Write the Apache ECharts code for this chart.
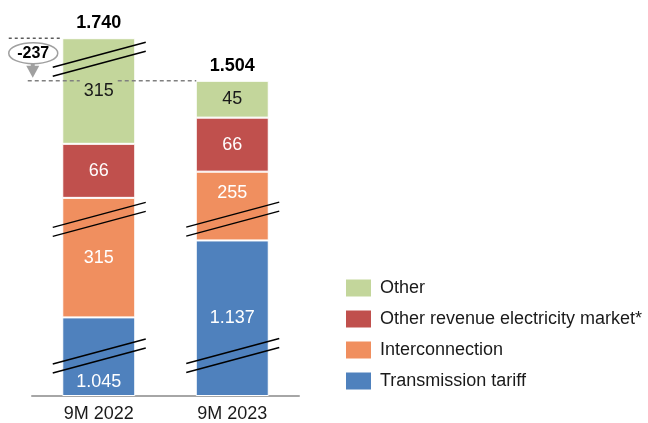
<!DOCTYPE html>
<html>
<head>
<meta charset="utf-8">
<script src="https://cdn.jsdelivr.net/npm/echarts@6/dist/echarts.min.js"></script>
<style>
  html, body { margin: 0; padding: 0; background: #fff; }
  #chart { width: 648px; height: 423px; }
</style>
</head>
<body>
<div id="chart"></div>
<script>
const categories = ['9M 2022', '9M 2023']
const transmission = [1045, 1137]
const interconnection = [315, 255]
const otherElectricity = [66, 66]
const other = [315, 45]
const totals = [1740, 1504]
const delta = -237
// the original bars are broken: amount cut out of each segment at the break marks
const transmissionCut = [949, 947]
const interconnectionCut = [169, 171]
const otherElectricityCut = [0, 0]
const otherCut = [186, 0]

const FONT = '"Liberation Sans", Arial, sans-serif'

// european thousands separator: 1045 -> 1.045
const fmt = (v) => {
  const a = Math.abs(v)
  const s = a >= 1000 ? Math.floor(a / 1000) + '.' + String(a % 1000).padStart(3, '0') : String(a)
  return (v < 0 ? '-' : '') + s
}

const seriesDefs = [
  { name: 'Transmission tariff', values: transmission, cut: transmissionCut, color: '#4f81bd', text: '#fff' },
  { name: 'Interconnection', values: interconnection, cut: interconnectionCut, color: '#f08f5f', text: '#fff' },
  { name: 'Other revenue electricity market*', values: otherElectricity, cut: otherElectricityCut, color: '#c0504d', text: '#fff' },
  { name: 'Other', values: other, cut: otherCut, color: '#c3d69b', text: '#1a1a1a' },
]
const shown = seriesDefs.map(s => s.values.map((v, i) => v - s.cut[i]))

// label nudges (series-category) so labels sit clear of the break marks
const labelShift = { '0-0': 25, '1-1': -13 }

const myChart = echarts.init(document.getElementById('chart'))

const series = seriesDefs.map((s, si) => ({
  name: s.name,
  type: 'bar',
  stack: 'rev',
  barWidth: 73,
  itemStyle: { color: s.color, borderColor: '#fff', borderWidth: 1 },
  label: {
    show: true,
    position: 'inside',
    color: s.text,
    fontSize: 18,
    fontFamily: FONT,
    formatter: (p) => fmt(s.values[p.dataIndex]),
  },
  data: shown[si].map((v, i) => {
    const off = labelShift[si + '-' + i]
    return off ? { value: v, label: { offset: [0, off] } } : v
  }),
}))

series.push({
  name: 'total',
  type: 'bar',
  stack: 'rev',
  barWidth: 73,
  itemStyle: { color: 'transparent' },
  label: {
    show: true,
    position: 'top',
    distance: 6,
    color: '#000',
    fontSize: 18,
    fontWeight: 'bold',
    fontFamily: FONT,
    formatter: (p) => fmt(totals[p.dataIndex]),
  },
  data: totals.map(() => 0),
})

myChart.setOption({
  animation: false,
  textStyle: { fontFamily: FONT },
  grid: { left: 32, right: 349, top: 3, bottom: 26 },
  legend: {
    orient: 'vertical',
    left: 346,
    top: 279,
    padding: 0,
    itemWidth: 25,
    itemHeight: 17,
    itemGap: 13,
    icon: 'rect',
    selectedMode: false,
    itemStyle: { borderWidth: 0 },
    textStyle: { fontSize: 18, color: '#1a1a1a', fontFamily: FONT, padding: [0, 0, 0, 4] },
    data: ['Other', 'Other revenue electricity market*', 'Interconnection', 'Transmission tariff'],
  },
  xAxis: {
    type: 'category',
    data: categories,
    axisTick: { show: false },
    axisLine: { lineStyle: { color: '#a6a6a6', width: 2 } },
    axisLabel: { fontSize: 18, color: '#1a1a1a', margin: 9, fontFamily: FONT },
  },
  yAxis: {
    type: 'value',
    min: 0,
    max: 480,
    show: false,
    splitLine: { show: false },
  },
  series: series,
})

// break marks: series index, category index, position inside the segment (0..1)
const breaks = [
  { s: 0, c: 0, f: 0.51 },
  { s: 0, c: 1, f: 0.26 },
  { s: 1, c: 0, f: 0.82 },
  { s: 1, c: 1, f: 0.31 },
  { s: 3, c: 0, f: 0.80 },
]

const toPx = (c, v) => myChart.convertToPixel({ gridIndex: 0 }, [c, v])
const graphics = []

breaks.forEach(b => {
  let base = 0
  for (let k = 0; k < b.s; k++) base += shown[k][b.c]
  const [cx, cy] = toPx(b.c, base + shown[b.s][b.c] * b.f)
  ;[-4.5, 4.5].forEach(d => {
    graphics.push({
      type: 'line',
      z: 100,
      shape: { x1: cx - 46, y1: cy + d + 12.5, x2: cx + 47, y2: cy + d - 12.5 },
      style: { stroke: '#000', lineWidth: 1.5 },
    })
  })
})

// -237 annotation between the two totals
const stackTop = (c) => shown.reduce((acc, arr) => acc + arr[c], 0)
const [c1, y1] = toPx(0, stackTop(0))
const [c2, y2] = toPx(1, stackTop(1))
const ax = c1 - 66

graphics.push(
  {
    type: 'line', z: 100,
    shape: { x1: c1 - 90, y1: y1, x2: c1 - 37, y2: y1 },
    style: { stroke: '#333', lineWidth: 1.2, lineDash: [3, 3] },
  },
  {
    type: 'line', z: 100,
    shape: { x1: c1 - 71, y1: y2, x2: c1 - 19, y2: y2 },
    style: { stroke: '#808080', lineWidth: 1.5, lineDash: [4, 3] },
  },
  {
    type: 'line', z: 100,
    shape: { x1: c1 + 19, y1: y2, x2: c2 - 36, y2: y2 },
    style: { stroke: '#808080', lineWidth: 1.5, lineDash: [4, 3] },
  },
  {
    type: 'line', z: 100,
    shape: { x1: ax, y1: y1 + 25, x2: ax, y2: y2 - 12 },
    style: { stroke: '#a0a0a0', lineWidth: 4 },
  },
  {
    type: 'polygon', z: 100,
    shape: { points: [[ax - 6.5, y2 - 15], [ax + 6.5, y2 - 15], [ax, y2 - 3]] },
    style: { fill: '#a0a0a0' },
  },
  {
    type: 'ellipse', z: 101,
    shape: { cx: ax + 0.5, cy: y1 + 15, rx: 24.5, ry: 10.5 },
    style: { fill: '#fff', stroke: '#a0a0a0', lineWidth: 1.5 },
  },
  {
    type: 'text', z: 102,
    x: ax + 0.5, y: y1 + 15,
    style: {
      text: fmt(delta),
      fontSize: 16,
      fontWeight: 'bold',
      fontFamily: FONT,
      fill: '#000',
      align: 'center',
      verticalAlign: 'middle',
    },
  }
)

myChart.setOption({ graphic: graphics })
</script>
</body>
</html>
